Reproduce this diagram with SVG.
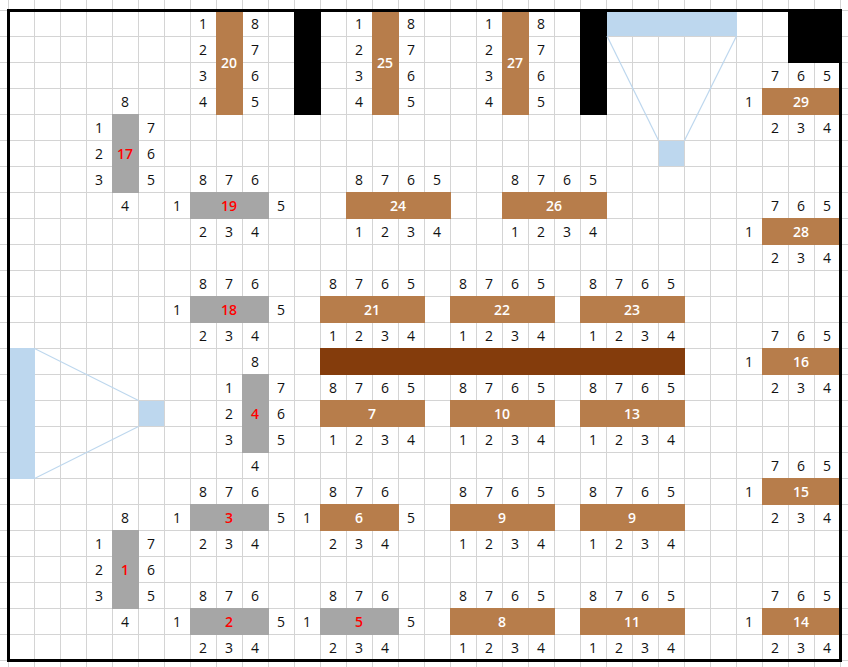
<svg xmlns="http://www.w3.org/2000/svg" width="848" height="667" viewBox="0 0 848 667">
<style>
.grid{stroke:#d4d4d4;stroke-width:1;fill:none}
.brown{fill:#b77d4b}
.gray{fill:#a6a6a6}
.dark{fill:#843c0c}
.blk{fill:#000}
.lb{fill:#bdd7ee}
.ln{stroke:#bdd7ee;stroke-width:1.2;fill:none}
text{font-family:"Open Sans","Noto Sans","Liberation Sans",sans-serif;font-size:14px;text-anchor:middle;dominant-baseline:central}
.n{fill:#111}
.w{fill:#fff;font-weight:600}
.r{fill:#ff0000;font-weight:600}
</style>
<rect x="0" y="0" width="848" height="667" fill="#fff"/>
<path class="grid" d="M8.5 0V667M34.5 0V667M60.5 0V667M86.5 0V667M112.5 0V667M138.5 0V667M164.5 0V667M190.5 0V667M216.5 0V667M242.5 0V667M268.5 0V667M294.5 0V667M320.5 0V667M346.5 0V667M372.5 0V667M398.5 0V667M424.5 0V667M450.5 0V667M476.5 0V667M502.5 0V667M528.5 0V667M554.5 0V667M580.5 0V667M606.5 0V667M632.5 0V667M658.5 0V667M684.5 0V667M710.5 0V667M736.5 0V667M762.5 0V667M788.5 0V667M814.5 0V667M840.5 0V667M0 10.5H848M0 36.5H848M0 62.5H848M0 88.5H848M0 114.5H848M0 140.5H848M0 166.5H848M0 192.5H848M0 218.5H848M0 244.5H848M0 270.5H848M0 296.5H848M0 322.5H848M0 348.5H848M0 374.5H848M0 400.5H848M0 426.5H848M0 452.5H848M0 478.5H848M0 504.5H848M0 530.5H848M0 556.5H848M0 582.5H848M0 608.5H848M0 634.5H848M0 660.5H848"/>

<g id="walls">
<rect class="blk" x="294" y="10" width="27" height="105"/>
<rect class="blk" x="580" y="10" width="27" height="105"/>
<rect class="blk" x="788" y="10" width="53" height="53"/>
<rect class="dark" x="320" y="348" width="365" height="27"/>
</g>

<g id="connectors">
<line class="ln" x1="607" y1="36" x2="658.5" y2="140.5"/>
<line class="ln" x1="736.5" y1="36" x2="684.5" y2="140.5"/>
<line class="ln" x1="34.5" y1="348.5" x2="138.5" y2="400.5"/>
<line class="ln" x1="34.5" y1="478.5" x2="138.5" y2="426.5"/>
</g>

<g id="funnel-top">
<rect class="lb" x="607" y="10" width="130" height="26"/>
<rect class="lb" x="659" y="141" width="25" height="25"/>
</g>
<g id="funnel-left">
<rect class="lb" x="8" y="348" width="27" height="131"/>
<rect class="lb" x="139" y="401" width="25" height="25"/>
</g>

<g id="n20">
<rect class="brown" x="216" y="10" width="27" height="105"/>
<text class="w" x="229" y="62">20</text>
<text class="n" x="203" y="23">1</text><text class="n" x="203" y="49">2</text><text class="n" x="203" y="75">3</text><text class="n" x="203" y="101">4</text>
<text class="n" x="255" y="23">8</text><text class="n" x="255" y="49">7</text><text class="n" x="255" y="75">6</text><text class="n" x="255" y="101">5</text>
</g>
<g id="n25">
<rect class="brown" x="372" y="10" width="27" height="105"/>
<text class="w" x="385" y="62">25</text>
<text class="n" x="359" y="23">1</text><text class="n" x="359" y="49">2</text><text class="n" x="359" y="75">3</text><text class="n" x="359" y="101">4</text>
<text class="n" x="411" y="23">8</text><text class="n" x="411" y="49">7</text><text class="n" x="411" y="75">6</text><text class="n" x="411" y="101">5</text>
</g>
<g id="n27">
<rect class="brown" x="502" y="10" width="27" height="105"/>
<text class="w" x="515" y="62">27</text>
<text class="n" x="489" y="23">1</text><text class="n" x="489" y="49">2</text><text class="n" x="489" y="75">3</text><text class="n" x="489" y="101">4</text>
<text class="n" x="541" y="23">8</text><text class="n" x="541" y="49">7</text><text class="n" x="541" y="75">6</text><text class="n" x="541" y="101">5</text>
</g>

<g id="n17">
<rect class="gray" x="112" y="114" width="27" height="79"/>
<text class="r" x="125" y="153">17</text>
<text class="n" x="125" y="101">8</text>
<text class="n" x="99" y="127">1</text><text class="n" x="99" y="153">2</text><text class="n" x="99" y="179">3</text>
<text class="n" x="151" y="127">7</text><text class="n" x="151" y="153">6</text><text class="n" x="151" y="179">5</text>
<text class="n" x="125" y="205">4</text>
</g>
<g id="n4">
<rect class="gray" x="242" y="374" width="27" height="79"/>
<text class="r" x="255" y="413">4</text>
<text class="n" x="255" y="361">8</text>
<text class="n" x="229" y="387">1</text><text class="n" x="229" y="413">2</text><text class="n" x="229" y="439">3</text>
<text class="n" x="281" y="387">7</text><text class="n" x="281" y="413">6</text><text class="n" x="281" y="439">5</text>
<text class="n" x="255" y="465">4</text>
</g>
<g id="n1">
<rect class="gray" x="112" y="530" width="27" height="79"/>
<text class="r" x="125" y="569">1</text>
<text class="n" x="125" y="517">8</text>
<text class="n" x="99" y="543">1</text><text class="n" x="99" y="569">2</text><text class="n" x="99" y="595">3</text>
<text class="n" x="151" y="543">7</text><text class="n" x="151" y="569">6</text><text class="n" x="151" y="595">5</text>
<text class="n" x="125" y="621">4</text>
</g>

<g id="n19">
<rect class="gray" x="190" y="192" width="79" height="27"/>
<text class="r" x="229" y="205">19</text>
<text class="n" x="203" y="179">8</text><text class="n" x="229" y="179">7</text><text class="n" x="255" y="179">6</text>
<text class="n" x="177" y="205">1</text><text class="n" x="281" y="205">5</text>
<text class="n" x="203" y="231">2</text><text class="n" x="229" y="231">3</text><text class="n" x="255" y="231">4</text>
</g>
<g id="n18">
<rect class="gray" x="190" y="296" width="79" height="27"/>
<text class="r" x="229" y="309">18</text>
<text class="n" x="203" y="283">8</text><text class="n" x="229" y="283">7</text><text class="n" x="255" y="283">6</text>
<text class="n" x="177" y="309">1</text><text class="n" x="281" y="309">5</text>
<text class="n" x="203" y="335">2</text><text class="n" x="229" y="335">3</text><text class="n" x="255" y="335">4</text>
</g>
<g id="n3">
<rect class="gray" x="190" y="504" width="79" height="27"/>
<text class="r" x="229" y="517">3</text>
<text class="n" x="203" y="491">8</text><text class="n" x="229" y="491">7</text><text class="n" x="255" y="491">6</text>
<text class="n" x="177" y="517">1</text><text class="n" x="281" y="517">5</text>
<text class="n" x="203" y="543">2</text><text class="n" x="229" y="543">3</text><text class="n" x="255" y="543">4</text>
</g>
<g id="n2">
<rect class="gray" x="190" y="608" width="79" height="27"/>
<text class="r" x="229" y="621">2</text>
<text class="n" x="203" y="595">8</text><text class="n" x="229" y="595">7</text><text class="n" x="255" y="595">6</text>
<text class="n" x="177" y="621">1</text><text class="n" x="281" y="621">5</text>
<text class="n" x="203" y="647">2</text><text class="n" x="229" y="647">3</text><text class="n" x="255" y="647">4</text>
</g>
<g id="n6">
<rect class="brown" x="320" y="504" width="79" height="27"/>
<text class="w" x="359" y="517">6</text>
<text class="n" x="333" y="491">8</text><text class="n" x="359" y="491">7</text><text class="n" x="385" y="491">6</text>
<text class="n" x="307" y="517">1</text><text class="n" x="411" y="517">5</text>
<text class="n" x="333" y="543">2</text><text class="n" x="359" y="543">3</text><text class="n" x="385" y="543">4</text>
</g>
<g id="n5">
<rect class="gray" x="320" y="608" width="79" height="27"/>
<text class="r" x="359" y="621">5</text>
<text class="n" x="333" y="595">8</text><text class="n" x="359" y="595">7</text><text class="n" x="385" y="595">6</text>
<text class="n" x="307" y="621">1</text><text class="n" x="411" y="621">5</text>
<text class="n" x="333" y="647">2</text><text class="n" x="359" y="647">3</text><text class="n" x="385" y="647">4</text>
</g>

<g id="n24">
<rect class="brown" x="346" y="192" width="105" height="27"/>
<text class="w" x="398" y="205">24</text>
<text class="n" x="359" y="179">8</text><text class="n" x="385" y="179">7</text><text class="n" x="411" y="179">6</text><text class="n" x="437" y="179">5</text>
<text class="n" x="359" y="231">1</text><text class="n" x="385" y="231">2</text><text class="n" x="411" y="231">3</text><text class="n" x="437" y="231">4</text>
</g>
<g id="n26">
<rect class="brown" x="502" y="192" width="105" height="27"/>
<text class="w" x="554" y="205">26</text>
<text class="n" x="515" y="179">8</text><text class="n" x="541" y="179">7</text><text class="n" x="567" y="179">6</text><text class="n" x="593" y="179">5</text>
<text class="n" x="515" y="231">1</text><text class="n" x="541" y="231">2</text><text class="n" x="567" y="231">3</text><text class="n" x="593" y="231">4</text>
</g>
<g id="n21">
<rect class="brown" x="320" y="296" width="105" height="27"/>
<text class="w" x="372" y="309">21</text>
<text class="n" x="333" y="283">8</text><text class="n" x="359" y="283">7</text><text class="n" x="385" y="283">6</text><text class="n" x="411" y="283">5</text>
<text class="n" x="333" y="335">1</text><text class="n" x="359" y="335">2</text><text class="n" x="385" y="335">3</text><text class="n" x="411" y="335">4</text>
</g>
<g id="n22">
<rect class="brown" x="450" y="296" width="105" height="27"/>
<text class="w" x="502" y="309">22</text>
<text class="n" x="463" y="283">8</text><text class="n" x="489" y="283">7</text><text class="n" x="515" y="283">6</text><text class="n" x="541" y="283">5</text>
<text class="n" x="463" y="335">1</text><text class="n" x="489" y="335">2</text><text class="n" x="515" y="335">3</text><text class="n" x="541" y="335">4</text>
</g>
<g id="n23">
<rect class="brown" x="580" y="296" width="105" height="27"/>
<text class="w" x="632" y="309">23</text>
<text class="n" x="593" y="283">8</text><text class="n" x="619" y="283">7</text><text class="n" x="645" y="283">6</text><text class="n" x="671" y="283">5</text>
<text class="n" x="593" y="335">1</text><text class="n" x="619" y="335">2</text><text class="n" x="645" y="335">3</text><text class="n" x="671" y="335">4</text>
</g>
<g id="n7">
<rect class="brown" x="320" y="400" width="105" height="27"/>
<text class="w" x="372" y="413">7</text>
<text class="n" x="333" y="387">8</text><text class="n" x="359" y="387">7</text><text class="n" x="385" y="387">6</text><text class="n" x="411" y="387">5</text>
<text class="n" x="333" y="439">1</text><text class="n" x="359" y="439">2</text><text class="n" x="385" y="439">3</text><text class="n" x="411" y="439">4</text>
</g>
<g id="n10">
<rect class="brown" x="450" y="400" width="105" height="27"/>
<text class="w" x="502" y="413">10</text>
<text class="n" x="463" y="387">8</text><text class="n" x="489" y="387">7</text><text class="n" x="515" y="387">6</text><text class="n" x="541" y="387">5</text>
<text class="n" x="463" y="439">1</text><text class="n" x="489" y="439">2</text><text class="n" x="515" y="439">3</text><text class="n" x="541" y="439">4</text>
</g>
<g id="n13">
<rect class="brown" x="580" y="400" width="105" height="27"/>
<text class="w" x="632" y="413">13</text>
<text class="n" x="593" y="387">8</text><text class="n" x="619" y="387">7</text><text class="n" x="645" y="387">6</text><text class="n" x="671" y="387">5</text>
<text class="n" x="593" y="439">1</text><text class="n" x="619" y="439">2</text><text class="n" x="645" y="439">3</text><text class="n" x="671" y="439">4</text>
</g>
<g id="n9a">
<rect class="brown" x="450" y="504" width="105" height="27"/>
<text class="w" x="502" y="517">9</text>
<text class="n" x="463" y="491">8</text><text class="n" x="489" y="491">7</text><text class="n" x="515" y="491">6</text><text class="n" x="541" y="491">5</text>
<text class="n" x="463" y="543">1</text><text class="n" x="489" y="543">2</text><text class="n" x="515" y="543">3</text><text class="n" x="541" y="543">4</text>
</g>
<g id="n9b">
<rect class="brown" x="580" y="504" width="105" height="27"/>
<text class="w" x="632" y="517">9</text>
<text class="n" x="593" y="491">8</text><text class="n" x="619" y="491">7</text><text class="n" x="645" y="491">6</text><text class="n" x="671" y="491">5</text>
<text class="n" x="593" y="543">1</text><text class="n" x="619" y="543">2</text><text class="n" x="645" y="543">3</text><text class="n" x="671" y="543">4</text>
</g>
<g id="n8">
<rect class="brown" x="450" y="608" width="105" height="27"/>
<text class="w" x="502" y="621">8</text>
<text class="n" x="463" y="595">8</text><text class="n" x="489" y="595">7</text><text class="n" x="515" y="595">6</text><text class="n" x="541" y="595">5</text>
<text class="n" x="463" y="647">1</text><text class="n" x="489" y="647">2</text><text class="n" x="515" y="647">3</text><text class="n" x="541" y="647">4</text>
</g>
<g id="n11">
<rect class="brown" x="580" y="608" width="105" height="27"/>
<text class="w" x="632" y="621">11</text>
<text class="n" x="593" y="595">8</text><text class="n" x="619" y="595">7</text><text class="n" x="645" y="595">6</text><text class="n" x="671" y="595">5</text>
<text class="n" x="593" y="647">1</text><text class="n" x="619" y="647">2</text><text class="n" x="645" y="647">3</text><text class="n" x="671" y="647">4</text>
</g>

<g id="n29">
<rect class="brown" x="762" y="88" width="79" height="27"/>
<text class="w" x="801" y="101">29</text>
<text class="n" x="775" y="75">7</text><text class="n" x="801" y="75">6</text><text class="n" x="827" y="75">5</text>
<text class="n" x="749" y="101">1</text>
<text class="n" x="775" y="127">2</text><text class="n" x="801" y="127">3</text><text class="n" x="827" y="127">4</text>
</g>
<g id="n28">
<rect class="brown" x="762" y="218" width="79" height="27"/>
<text class="w" x="801" y="231">28</text>
<text class="n" x="775" y="205">7</text><text class="n" x="801" y="205">6</text><text class="n" x="827" y="205">5</text>
<text class="n" x="749" y="231">1</text>
<text class="n" x="775" y="257">2</text><text class="n" x="801" y="257">3</text><text class="n" x="827" y="257">4</text>
</g>
<g id="n16">
<rect class="brown" x="762" y="348" width="79" height="27"/>
<text class="w" x="801" y="361">16</text>
<text class="n" x="775" y="335">7</text><text class="n" x="801" y="335">6</text><text class="n" x="827" y="335">5</text>
<text class="n" x="749" y="361">1</text>
<text class="n" x="775" y="387">2</text><text class="n" x="801" y="387">3</text><text class="n" x="827" y="387">4</text>
</g>
<g id="n15">
<rect class="brown" x="762" y="478" width="79" height="27"/>
<text class="w" x="801" y="491">15</text>
<text class="n" x="775" y="465">7</text><text class="n" x="801" y="465">6</text><text class="n" x="827" y="465">5</text>
<text class="n" x="749" y="491">1</text>
<text class="n" x="775" y="517">2</text><text class="n" x="801" y="517">3</text><text class="n" x="827" y="517">4</text>
</g>
<g id="n14">
<rect class="brown" x="762" y="608" width="79" height="27"/>
<text class="w" x="801" y="621">14</text>
<text class="n" x="775" y="595">7</text><text class="n" x="801" y="595">6</text><text class="n" x="827" y="595">5</text>
<text class="n" x="749" y="621">1</text>
<text class="n" x="775" y="647">2</text><text class="n" x="801" y="647">3</text><text class="n" x="827" y="647">4</text>
</g>

<rect id="border" x="8.5" y="10.5" width="832" height="650" fill="none" stroke="#000" stroke-width="3"/>
</svg>
